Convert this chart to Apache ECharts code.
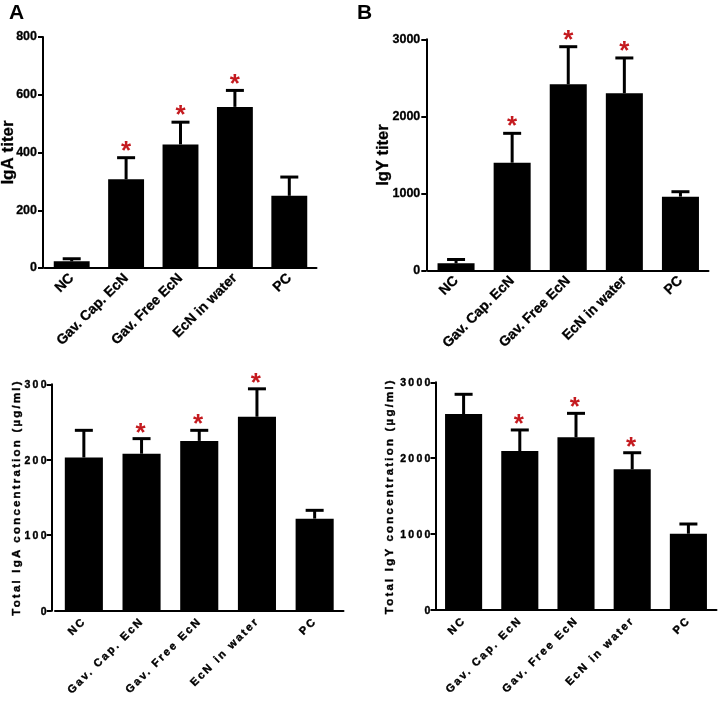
<!DOCTYPE html>
<html>
<head>
<meta charset="utf-8">
<script src="https://cdn.jsdelivr.net/npm/echarts@6/dist/echarts.min.js"></script>
<style>
  html, body { margin:0; padding:0; background:#fff; }
  #top, #bottom { position:absolute; left:0; top:0; width:718px; height:702px; }
  #bottom text { letter-spacing: 2.2px; }
</style>
</head>
<body>
<div id="top"></div>
<div id="bottom"></div>
<script>
const categories = ['NC', 'Gav. Cap. EcN', 'Gav. Free EcN', 'EcN in water', 'PC'];

// Panel A: IgA titer (mean, SD)
const igaTiter = [23, 307, 428, 558, 250];
const igaTiterSD = [9, 75, 77, 57, 65];
const igaTiterStar = [0, 1, 1, 1, 0];

// Panel B: IgY titer
const igyTiter = [95, 1400, 2416, 2300, 960];
const igyTiterSD = [50, 381, 488, 458, 64];
const igyTiterStar = [0, 1, 1, 1, 0];

// Bottom left: Total IgA concentration (µg/ml)
const totalIgA = [203, 208, 225, 257, 122];
const totalIgASD = [36, 20, 14, 37, 11];
const totalIgAStar = [0, 1, 1, 1, 0];

// Bottom right: Total IgY concentration (µg/ml)
const totalIgY = [2582, 2095, 2275, 1853, 1005];
const totalIgYSD = [260, 277, 316, 219, 128];
const totalIgYStar = [0, 1, 1, 1, 0];

const FONT = 'Liberation Sans, Arial, sans-serif';
const STAR_COLOR = '#c41a1f';

function makeErr(vals, sds, stars) {
  return vals.map((v, i) => [i, v, sds[i], stars[i]]);
}

function errRender(starFont, starGap) {
  return function (params, api) {
    const i = api.value(0), v = api.value(1), e = api.value(2), s = api.value(3);
    const p0 = api.coord([i, v]);
    const p1 = api.coord([i, v + e]);
    const children = [
      { type: 'line', shape: { x1: p0[0], y1: p0[1], x2: p1[0], y2: p1[1] }, style: { stroke: '#000', lineWidth: 3 } },
      { type: 'line', shape: { x1: p1[0] - 9, y1: p1[1], x2: p1[0] + 9, y2: p1[1] }, style: { stroke: '#000', lineWidth: 3 } }
    ];
    if (s) {
      children.push({ type: 'text', style: { text: '*', x: p1[0], y: p1[1] - starGap, fill: STAR_COLOR, font: starFont, textAlign: 'center', textVerticalAlign: 'middle' } });
    }
    return { type: 'group', children: children };
  };
}

function xAx(gi, fs, stroke) {
  return {
    gridIndex: gi, type: 'category', data: categories,
    axisLine: { lineStyle: { color: '#000', width: 2 } },
    axisTick: { alignWithLabel: true, length: 5, lineStyle: { color: '#000', width: 2 } },
    axisLabel: { rotate: 45, interval: 0, color: '#000', fontWeight: 'bold', fontSize: fs, fontFamily: FONT, margin: 8,
                 textBorderColor: '#000', textBorderWidth: stroke }
  };
}
function yAx(gi, max, interval, name, offset, nameGap, nameSize, labelSize, labelMargin, stroke) {
  return {
    gridIndex: gi, type: 'value', min: 0, max: max, interval: interval, offset: offset,
    axisLine: { show: true, lineStyle: { color: '#000', width: 2 } },
    axisTick: { show: true, length: 5, lineStyle: { color: '#000', width: 2 } },
    splitLine: { show: false },
    axisLabel: { color: '#000', fontWeight: 'bold', fontSize: labelSize, fontFamily: FONT, margin: labelMargin,
                 formatter: function (v) { return String(v); }, textBorderColor: '#000', textBorderWidth: stroke },
    name: name, nameLocation: 'middle', nameGap: nameGap, nameMoveOverlap: false,
    nameTextStyle: { color: '#000', fontWeight: 'bold', fontSize: nameSize, fontFamily: FONT, textBorderColor: '#000', textBorderWidth: stroke }
  };
}
function barS(gi, data) {
  return { type: 'bar', xAxisIndex: gi, yAxisIndex: gi, data: data, barWidth: '66%', itemStyle: { color: '#000' }, silent: true, animation: false };
}
function errS(gi, data, starFont, gap) {
  return { type: 'custom', xAxisIndex: gi, yAxisIndex: gi, data: data, renderItem: errRender(starFont, gap), silent: true, animation: false, z: 5 };
}

const topChart = echarts.init(document.getElementById('top'), null, { renderer: 'canvas' });
topChart.setOption({
  animation: false,
  grid: [
    { left: 44.5, top: 37, width: 272, height: 231, outerBoundsMode: 'none' },
    { left: 428, top: 39.3, width: 280.5, height: 231.4, outerBoundsMode: 'none' }
  ],
  xAxis: [xAx(0, 14, 0.3), xAx(1, 14, 0.3)],
  yAxis: [
    yAx(0, 800, 200, 'IgA titer', 1.5, 26, 17, 12.5, 6, 0.3),
    yAx(1, 3000, 1000, 'IgY titer', 1.7, 34, 16.5, 12.5, 6, 0.3)
  ],
  series: [
    barS(0, igaTiter), errS(0, makeErr(igaTiter, igaTiterSD, igaTiterStar), 'bold 26px ' + FONT, 6),
    barS(1, igyTiter), errS(1, makeErr(igyTiter, igyTiterSD, igyTiterStar), 'bold 26px ' + FONT, 6)
  ],
  graphic: [
    { type: 'text', left: 9, top: 3, style: { text: 'A', font: 'bold 21px ' + FONT, fill: '#000' } },
    { type: 'text', left: 357, top: 3, style: { text: 'B', font: 'bold 21px ' + FONT, fill: '#000' } }
  ]
});

const botChart = echarts.init(document.getElementById('bottom'), null, { renderer: 'svg' });
botChart.setOption({
  animation: false,
  grid: [
    { left: 55, top: 384.3, width: 288.5, height: 226.4, outerBoundsMode: 'none' },
    { left: 435.5, top: 382.3, width: 281, height: 227.7, outerBoundsMode: 'none' }
  ],
  xAxis: [xAx(0, 11, 0.4), xAx(1, 11, 0.4)],
  yAxis: [
    yAx(0, 300, 100, 'Total IgA concentration (µg/ml)', 3.3, 30, 11.5, 10.5, 3, 0.4),
    yAx(1, 3000, 1000, 'Total IgY concentration (µg/ml)', 0, 41, 11.5, 10.5, 3, 0.4)
  ],
  series: [
    barS(0, totalIgA), errS(0, makeErr(totalIgA, totalIgASD, totalIgAStar), 'bold 26px ' + FONT, 7),
    barS(1, totalIgY), errS(1, makeErr(totalIgY, totalIgYSD, totalIgYStar), 'bold 26px ' + FONT, 7)
  ]
});
</script>
</body>
</html>
